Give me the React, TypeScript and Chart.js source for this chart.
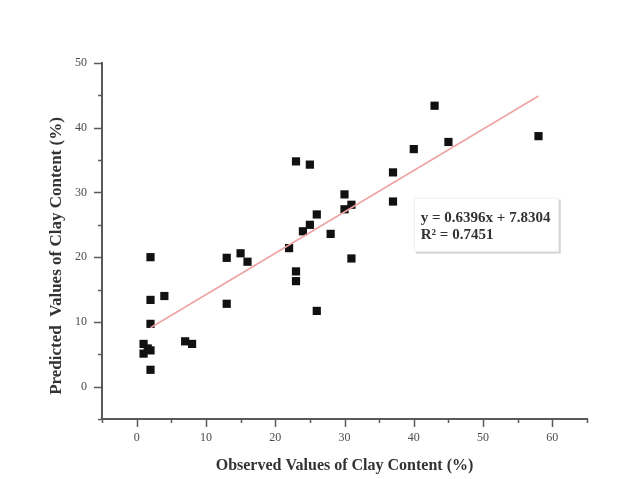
import React, { useEffect, useRef } from "react";
import { Chart, registerables } from "chart.js";

Chart.register(...registerables);

const observed = [2, 2, 4, 2, 1, 1, 2, 1.6, 2, 7, 8, 13, 13, 15, 16, 22, 23, 25, 30, 37, 40, 43, 45, 58, 23, 23, 24, 25, 26, 28, 30, 31, 31, 26, 37];
const predicted = [20.0, 13.4, 14.0, 9.7, 6.6, 5.1, 5.6, 5.9, 2.6, 7.0, 6.6, 19.9, 12.8, 20.6, 19.3, 21.4, 34.8, 34.3, 29.7, 33.1, 36.7, 43.4, 37.8, 38.7, 17.8, 16.3, 24.0, 25.0, 26.6, 23.6, 27.4, 28.1, 19.8, 11.7, 28.6];
const trendX = [2, 58];
const trendY = [9.1, 44.9];
const equationLines = ["y = 0.6396x + 7.8304", "R\u00B2 = 0.7451"];
const xTitle = "Observed Values of Clay Content (%)";
const yTitle = "Predicted  Values of Clay Content (%)";

const SERIF = "'Liberation Serif', 'Times New Roman', serif";

const tickPlugin = {
  id: "originTicks",
  afterDraw(chart: any) {
    const ctx = chart.ctx;
    const xs = chart.scales.x;
    const ys = chart.scales.y;
    const area = chart.chartArea;
    ctx.save();
    ctx.strokeStyle = "#5a5a5a";
    ctx.lineWidth = 1.5;
    for (let v = -5; v <= 65; v += 5) {
      const px = Math.round(xs.getPixelForValue(v)) + 0.5;
      const len = v % 10 === 0 ? 8 : 4;
      ctx.beginPath();
      ctx.moveTo(px, area.bottom);
      ctx.lineTo(px, area.bottom + len);
      ctx.stroke();
    }
    for (let v = -5; v <= 50; v += 5) {
      const py = Math.round(ys.getPixelForValue(v)) + 0.5;
      const len = v % 10 === 0 ? 8 : 4;
      ctx.beginPath();
      ctx.moveTo(area.left, py);
      ctx.lineTo(area.left - len, py);
      ctx.stroke();
    }
    // y axis title
    ctx.save();
    ctx.translate(57, (area.top + area.bottom) / 2 + 15);
    ctx.rotate(-Math.PI / 2);
    ctx.fillStyle = "#333333";
    ctx.font = `bold 17px ${SERIF}`;
    ctx.textAlign = "center";
    ctx.textBaseline = "middle";
    ctx.fillText(yTitle, 0, 0);
    ctx.restore();
    // equation box
    const bx = xs.getPixelForValue(40);
    const by = ys.getPixelForValue(29.2);
    const bw = 145;
    const bh = 54;
    ctx.fillStyle = "#d4d4d4";
    ctx.fillRect(bx + 2, by + 2, bw, bh);
    ctx.fillStyle = "#ffffff";
    ctx.fillRect(bx, by, bw, bh);
    ctx.strokeStyle = "#f0f0f0";
    ctx.lineWidth = 1;
    ctx.strokeRect(bx + 0.5, by + 0.5, bw - 1, bh - 1);
    ctx.fillStyle = "#333333";
    ctx.font = `bold 15px ${SERIF}`;
    ctx.textBaseline = "middle";
    ctx.textAlign = "left";
    ctx.fillText(equationLines[0], bx + 7, by + 20);
    ctx.fillText(equationLines[1], bx + 7, by + 37);
    ctx.restore();
  },
};

export default function App() {
  const ref = useRef<HTMLCanvasElement | null>(null);
  useEffect(() => {
    if (!ref.current) return;
    const chart = new Chart(ref.current, {
      type: "scatter",
      data: {
        datasets: [
          {
            type: "line",
            data: trendX.map((x, i) => ({ x, y: trendY[i] })),
            borderColor: "#eea3a3",
            borderWidth: 1.5,
            pointRadius: 0,
            fill: false,
          } as any,
          {
            data: observed.map((x, i) => ({ x, y: predicted[i] })),
            pointStyle: "rect",
            pointRadius: 5.8,
            backgroundColor: "#111111",
            borderColor: "#111111",
            borderWidth: 0,
          },
        ],
      },
      options: {
        animation: false,
        responsive: false,
        maintainAspectRatio: false,
        layout: { padding: { left: 0, top: 63, right: 35, bottom: 0 } },
        plugins: { legend: { display: false }, tooltip: { enabled: false } },
        scales: {
          x: {
            type: "linear",
            min: -5,
            max: 65,
            afterFit: (s: any) => {
              s.height = 60;
            },
            ticks: {
              stepSize: 5,
              padding: 4,
              color: "#4a4a4a",
              font: { family: SERIF, size: 12 },
              maxRotation: 0,
              autoSkip: false,
              callback: (v: any) => (Number(v) % 10 === 0 && Number(v) >= 0 && Number(v) <= 60 ? String(v) : ""),
            },
            grid: { display: true, drawOnChartArea: false, drawTicks: true, tickLength: 8, tickColor: "rgba(0,0,0,0)" },
            border: { display: true, color: "#5a5a5a", width: 2 },
            title: {
              display: true,
              text: xTitle,
              color: "#333333",
              font: { family: SERIF, size: 16, weight: "bold" },
              padding: { top: 0, bottom: 4 },
            },
          },
          y: {
            type: "linear",
            min: -5,
            max: 50,
            afterFit: (s: any) => {
              s.width = 102;
            },
            ticks: {
              stepSize: 5,
              padding: 7,
              color: "#4a4a4a",
              font: { family: SERIF, size: 12 },
              autoSkip: false,
              callback: (v: any) => (Number(v) % 10 === 0 && Number(v) >= 0 ? String(v) : ""),
            },
            grid: { display: true, drawOnChartArea: false, drawTicks: true, tickLength: 8, tickColor: "rgba(0,0,0,0)" },
            border: { display: true, color: "#5a5a5a", width: 2 },
            title: { display: false },
          },
        },
      },
      plugins: [tickPlugin],
    });
    return () => chart.destroy();
  }, []);
  return (
    <div style={{ position: "absolute", left: 0, top: 0, width: 622, height: 479, background: "#ffffff" }}>
      <canvas ref={ref} width={622} height={479} style={{ width: 622, height: 479, display: "block" }} />
    </div>
  );
}
